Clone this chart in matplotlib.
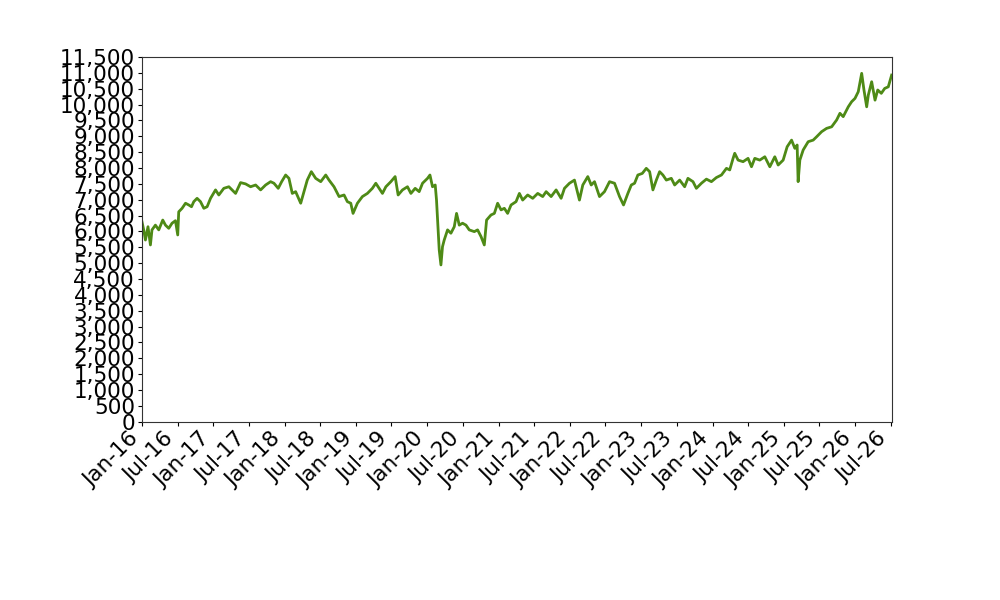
import numpy as np
import pandas as pd
import matplotlib
matplotlib.use("Agg")
import matplotlib.pyplot as plt
import matplotlib.dates as mdates
from matplotlib.ticker import FuncFormatter, MultipleLocator

# =========================
# DATA
# =========================
# years elapsed since 2016-01-01
years = [
    0.000, 0.024, 0.048, 0.084, 0.118, 0.140, 0.188, 0.235, 0.291, 0.329,
    0.375, 0.421, 0.469, 0.501, 0.515, 0.562, 0.610, 0.656, 0.694, 0.726,
    0.772, 0.820, 0.867, 0.913, 0.961, 1.031, 1.077, 1.147, 1.218, 1.312,
    1.382, 1.452, 1.522, 1.593, 1.663, 1.733, 1.803, 1.850, 1.910, 1.958,
    2.014, 2.060, 2.107, 2.154, 2.225, 2.271, 2.317, 2.374, 2.435, 2.506,
    2.576, 2.622, 2.692, 2.763, 2.833, 2.879, 2.927, 2.959, 3.020, 3.090,
    3.160, 3.230, 3.278, 3.324, 3.371, 3.419, 3.489, 3.549, 3.591, 3.652,
    3.722, 3.770, 3.830, 3.886, 3.933, 4.003, 4.037, 4.073, 4.111, 4.129,
    4.149, 4.167, 4.191, 4.213, 4.237, 4.284, 4.331, 4.378, 4.410, 4.448,
    4.494, 4.542, 4.588, 4.659, 4.705, 4.753, 4.799, 4.831, 4.893, 4.940,
    4.986, 5.034, 5.080, 5.126, 5.174, 5.244, 5.291, 5.337, 5.407, 5.478,
    5.548, 5.618, 5.666, 5.736, 5.806, 5.876, 5.923, 5.993, 6.063, 6.133,
    6.180, 6.250, 6.298, 6.344, 6.414, 6.484, 6.555, 6.625, 6.695, 6.751,
    6.812, 6.860, 6.906, 6.952, 7.014, 7.070, 7.117, 7.163, 7.211, 7.257,
    7.303, 7.351, 7.421, 7.468, 7.538, 7.608, 7.654, 7.725, 7.772, 7.843,
    7.913, 7.983, 8.053, 8.124, 8.194, 8.240, 8.287, 8.310, 8.357, 8.427,
    8.497, 8.545, 8.591, 8.661, 8.732, 8.802, 8.872, 8.919, 8.989, 9.045,
    9.107, 9.153, 9.185, 9.199, 9.223, 9.270, 9.340, 9.410, 9.458, 9.528,
    9.598, 9.669, 9.739, 9.785, 9.831, 9.902, 9.949, 9.996, 10.042, 10.090,
    10.122, 10.160, 10.183, 10.230, 10.277, 10.315, 10.365, 10.413, 10.463, 10.510,
]

values = [
    6300, 6050, 5730, 6150, 5575, 6050, 6200, 6050, 6360, 6200,
    6100, 6260, 6340, 5890, 6620, 6730, 6890, 6835, 6780, 6940,
    7045, 6940, 6730, 6780, 7045, 7310, 7150, 7360, 7410, 7200,
    7540, 7500, 7410, 7465, 7310, 7465, 7570, 7520, 7360, 7570,
    7780, 7675, 7200, 7255, 6890, 7255, 7620, 7885, 7675, 7570,
    7780, 7620, 7410, 7100, 7150, 6940, 6890, 6570, 6890, 7100,
    7200, 7360, 7520, 7360, 7200, 7410, 7570, 7730, 7150, 7310,
    7410, 7200, 7360, 7255, 7520, 7675, 7780, 7410, 7465, 6990,
    6150, 5420, 4945, 5520, 5730, 6050, 5945, 6150, 6570, 6200,
    6260, 6200, 6050, 5995, 6050, 5840, 5575, 6360, 6520, 6570,
    6890, 6680, 6730, 6570, 6835, 6940, 7200, 6990, 7150, 7045,
    7200, 7100, 7255, 7100, 7310, 7045, 7360, 7520, 7620, 6990,
    7465, 7730, 7465, 7570, 7100, 7255, 7570, 7520, 7100, 6835,
    7200, 7465, 7520, 7780, 7830, 7990, 7885, 7310, 7620, 7885,
    7780, 7620, 7675, 7465, 7620, 7410, 7675, 7570, 7360, 7520,
    7650, 7570, 7700, 7780, 7990, 7940, 8305, 8465, 8250, 8200,
    8305, 8040, 8305, 8250, 8355, 8040, 8355, 8095, 8250, 8670,
    8880, 8620, 8725, 7570, 8250, 8570, 8830, 8880, 8985, 9145,
    9250, 9300, 9515, 9725, 9620, 9930, 10090, 10195, 10405, 10985,
    10460, 9930, 10300, 10720, 10140, 10460, 10355, 10510, 10560, 10930,
]

start = pd.Timestamp("2016-01-01")
dates = start + pd.to_timedelta(np.array(years) * 365.25, unit="D")

# =========================
# PLOT
# =========================
fig = plt.figure(figsize=(10, 6), dpi=100)
ax = fig.add_axes([0.142, 0.297, 0.750, 0.608])

ax.plot(dates, values, color="#4e8a16", linewidth=2.0)

ax.set_xlim(start, start + pd.Timedelta(days=10.515 * 365.25))
ax.set_ylim(0, 11500)

ax.yaxis.set_major_locator(MultipleLocator(500))
ax.yaxis.set_major_formatter(FuncFormatter(lambda v, p: f"{int(v):,}"))

ax.xaxis.set_major_locator(mdates.MonthLocator(bymonth=[1, 7]))
ax.xaxis.set_major_formatter(mdates.DateFormatter("%b-%y"))

ax.tick_params(axis="both", labelsize=15.5, direction="out", length=3,
               pad=2, top=False, right=False)
for lbl in ax.get_xticklabels():
    lbl.set_rotation(45)
    lbl.set_ha("right")

for s in ax.spines.values():
    s.set_color("#333333")
    s.set_linewidth(0.8)

fig.savefig("out.png", dpi=100)
print("done")
